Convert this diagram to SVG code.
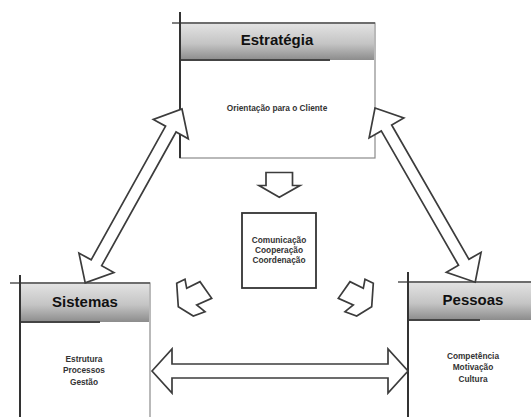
<svg xmlns="http://www.w3.org/2000/svg" width="531" height="417" viewBox="0 0 531 417">
  <style>
    .frame { fill: #ffffff; stroke: #8a8a8a; stroke-width: 1.2; }
    .post { stroke: #333333; stroke-width: 2; fill: none; }
    .rule { stroke: #555555; stroke-width: 1.6; fill: none; }
    .band { fill: url(#bandFill); }
    .bandEdge { stroke: #444444; stroke-width: 2.2; }
    .head { font-family: "Liberation Sans", Arial, sans-serif; font-weight: bold; font-size: 15px; fill: #111111; text-anchor: middle; }
    .body { font-family: "Liberation Sans", Arial, sans-serif; font-weight: bold; font-size: 8.3px; fill: #333333; text-anchor: middle; }
    .arrow { fill: #ffffff; stroke: #3c3c3c; stroke-width: 1.7; stroke-linejoin: miter; }
  </style>
  <defs>
    <linearGradient id="bandFill" x1="0" y1="0" x2="0" y2="1">
      <stop offset="0" stop-color="#e2e2e2"/>
      <stop offset="0.55" stop-color="#c4c4c4"/>
      <stop offset="1" stop-color="#8c8c8c"/>
    </linearGradient>
  </defs>

  <rect width="531" height="417" fill="#ffffff"/>

  <!-- Estratégia -->
  <g id="estrategia">
    <rect class="frame" x="180" y="23" width="195" height="135"/>
    <rect class="band" x="181" y="24" width="193" height="36"/>
    <line class="bandEdge" x1="181" y1="60" x2="330" y2="60"/>
    <line class="rule" x1="172" y1="23" x2="375" y2="23"/>
    <line class="post" x1="180" y1="12" x2="180" y2="158"/>
    <text class="head" x="277" y="45">Estratégia</text>
    <text class="body" x="277" y="111">Orientação para o Cliente</text>
  </g>

  <!-- Sistemas -->
  <g id="sistemas">
    <rect class="frame" x="20" y="283" width="130" height="140"/>
    <rect class="band" x="21" y="284" width="128" height="38"/>
    <line class="bandEdge" x1="21" y1="322" x2="100" y2="322"/>
    <line class="rule" x1="10" y1="283" x2="150" y2="283"/>
    <line class="post" x1="20" y1="275" x2="20" y2="417"/>
    <text class="head" x="85" y="307">Sistemas</text>
    <text class="body" x="84" y="362">Estrutura</text>
    <text class="body" x="84" y="373">Processos</text>
    <text class="body" x="84" y="385">Gestão</text>
  </g>

  <!-- Pessoas -->
  <g id="pessoas">
    <rect class="frame" x="408" y="282" width="130" height="140"/>
    <rect class="band" x="409" y="283" width="128" height="37"/>
    <line class="bandEdge" x1="409" y1="320" x2="480" y2="320"/>
    <line class="rule" x1="398" y1="282" x2="531" y2="282"/>
    <line class="post" x1="408" y1="272" x2="408" y2="417"/>
    <text class="head" x="473" y="305">Pessoas</text>
    <text class="body" x="473" y="359">Competência</text>
    <text class="body" x="473" y="370">Motivação</text>
    <text class="body" x="473" y="382">Cultura</text>
  </g>

  <!-- Centro -->
  <g id="centro">
    <rect x="242" y="213" width="74" height="75" fill="#ffffff" stroke="#333333" stroke-width="1.8"/>
    <text class="body" x="279" y="242.5">Comunicação</text>
    <text class="body" x="279" y="252.5">Cooperação</text>
    <text class="body" x="279" y="262.5">Coordenação</text>
  </g>

  <!-- Connectors -->
  <g id="connectors">
    <!-- double block arrows between the three areas -->
    <polygon class="arrow" transform="translate(182,109) rotate(119.1)"
             points="0,0 23,-20 23,-6 176,-6 176,-20 199,0 176,20 176,6 23,6 23,20"/>
    <polygon class="arrow" transform="translate(375,108) rotate(60.1)"
             points="0,0 23,-20 23,-6 178,-6 178,-20 201,0 178,20 178,6 23,6 23,20"/>
    <polygon class="arrow" transform="translate(152,371)"
             points="0,0 20,-22 20,-7 236,-7 236,-22 256,0 236,22 236,7 20,7 20,22"/>
    <!-- flow arrows around the central box -->
    <polygon class="arrow" points="266,172.5 292.5,172.5 292.5,185.5 300,185.5 279.3,197.3 259,185.5 266,185.5"/>
    <polygon class="arrow" points="176.7,283.3 185,279.3 186.7,288.3 200,281.7 211.7,298.3 196.7,305 205,311.7 193.3,316 178.3,306.7"/>
    <polygon class="arrow" points="373.3,283.3 365,279.3 363.3,288.3 350,281.7 338.3,298.3 353.3,305 345,311.7 356.7,316 371.7,306.7"/>
  </g>
</svg>
